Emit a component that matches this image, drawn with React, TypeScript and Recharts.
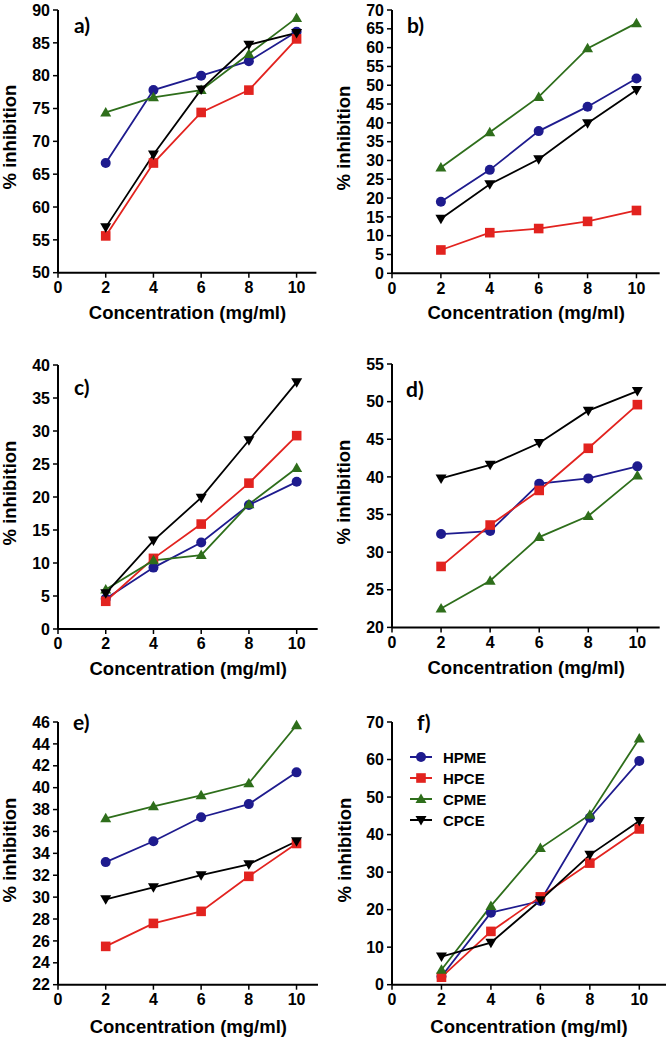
import { Legend, Line, LineChart, XAxis, YAxis } from "recharts";

const CONC = [2, 4, 6, 8, 10];
const X_TICKS = [0, 2, 4, 6, 8, 10];
const SERIES_NAMES = ["HPME", "HPCE", "CPME", "CPCE"];

// a)
const A_HPME = [66.7, 77.8, 80.0, 82.2, 86.7];
const A_HPCE = [55.6, 66.7, 74.4, 77.8, 85.6];
const A_CPME = [74.4, 76.7, 77.8, 83.3, 88.8];
const A_CPCE = [56.9, 68.0, 77.9, 84.7, 86.5];
const A_TICKS = [50, 55, 60, 65, 70, 75, 80, 85, 90];

// b)
const B_HPME = [19.0, 27.5, 37.8, 44.3, 51.8];
const B_HPCE = [6.2, 10.8, 11.9, 13.8, 16.7];
const B_CPME = [28.1, 37.5, 46.9, 59.8, 66.5];
const B_CPCE = [14.5, 23.7, 30.3, 39.9, 48.7];
const B_TICKS = [0, 5, 10, 15, 20, 25, 30, 35, 40, 45, 50, 55, 60, 65, 70];

// c)
const C_HPME = [4.6, 9.3, 13.1, 18.8, 22.3];
const C_HPCE = [4.2, 10.7, 15.9, 22.1, 29.3];
const C_CPME = [6.0, 10.4, 11.2, 18.9, 24.4];
const C_CPCE = [5.4, 13.4, 19.9, 28.6, 37.4];
const C_TICKS = [0, 5, 10, 15, 20, 25, 30, 35, 40];

// d)
const D_HPME = [32.4, 32.8, 39.1, 39.8, 41.4];
const D_HPCE = [28.1, 33.6, 38.2, 43.8, 49.6];
const D_CPME = [22.5, 26.2, 32.0, 34.8, 40.2];
const D_CPCE = [39.8, 41.6, 44.5, 48.8, 51.4];
const D_TICKS = [20, 25, 30, 35, 40, 45, 50, 55];

// e)
const E_HPME = [33.2, 35.1, 37.3, 38.5, 41.4];
const E_HPCE = [25.5, 27.6, 28.7, 31.9, 34.9];
const E_CPME = [37.2, 38.3, 39.3, 40.4, 45.7];
const E_CPCE = [29.8, 30.9, 32.0, 33.0, 35.1];
const E_TICKS = [22, 24, 26, 28, 30, 32, 34, 36, 38, 40, 42, 44, 46];

// f)
const F_HPME = [2.2, 19.2, 22.3, 44.5, 59.6];
const F_HPCE = [2.0, 14.2, 23.4, 32.4, 41.5];
const F_CPME = [4.0, 21.0, 36.4, 45.3, 65.6];
const F_CPCE = [7.5, 11.2, 22.5, 34.6, 43.6];
const F_TICKS = [0, 10, 20, 30, 40, 50, 60, 70];

const COLORS: Record<string, string> = {
  HPME: "#1e1b8e",
  HPCE: "#e2231f",
  CPME: "#2e6e1b",
  CPCE: "#000000",
};
const SHAPES: Record<string, string> = {
  HPME: "circle",
  HPCE: "square",
  CPME: "up",
  CPCE: "down",
};

const FONT = '"Liberation Sans", Arial, sans-serif';
const Y_AXIS_W = 55;
const M_TOP = 12;
const M_RIGHT = 5;
const X_AXIS_H = 30;

function rows(h: number[], p: number[], c: number[], k: number[]) {
  return CONC.map((x, i) => ({ x, HPME: h[i], HPCE: p[i], CPME: c[i], CPCE: k[i] }));
}

const PANELS = [
  { tag: "a)", data: rows(A_HPME, A_HPCE, A_CPME, A_CPCE), ticks: A_TICKS, left: 58.3, top: 10, w: 258.4, h: 262.7, xMax: 10.83, tagX: 74, tagY: 14, ylabX: 10, xlabOff: 40 },
  { tag: "b)", data: rows(B_HPME, B_HPCE, B_CPME, B_CPCE), ticks: B_TICKS, left: 392.3, top: 10, w: 267.7, h: 263.3, xMax: 10.95, tagX: 407, tagY: 14, ylabX: 344, xlabOff: 40 },
  { tag: "c)", data: rows(C_HPME, C_HPCE, C_CPME, C_CPCE), ticks: C_TICKS, left: 58.3, top: 365, w: 259.7, h: 264, xMax: 10.88, tagX: 74, tagY: 376, ylabX: 10, xlabOff: 40 },
  { tag: "d)", data: rows(D_HPME, D_HPCE, D_CPME, D_CPCE), ticks: D_TICKS, left: 392.3, top: 364.3, w: 267.7, h: 263.4, xMax: 10.91, tagX: 406, tagY: 378, ylabX: 344, xlabOff: 40 },
  { tag: "e)", data: rows(E_HPME, E_HPCE, E_CPME, E_CPCE), ticks: E_TICKS, left: 58.3, top: 722.3, w: 260, h: 262.7, xMax: 10.9, tagX: 73, tagY: 711, ylabX: 10, xlabOff: 42 },
  { tag: "f)", data: rows(F_HPME, F_HPCE, F_CPME, F_CPCE), ticks: F_TICKS, left: 392, top: 722.3, w: 274, h: 262.7, xMax: 11.08, tagX: 417, tagY: 711, ylabX: 345, xlabOff: 42, legend: true },
];

function Marker({ shape, cx, cy, color }: { shape: string; cx: number; cy: number; color: string }) {
  if (cx == null || cy == null) return null;
  if (shape === "circle") return <circle cx={cx} cy={cy} r={5} fill={color} />;
  if (shape === "square") return <rect x={cx - 4.8} y={cy - 4.8} width={9.6} height={9.6} fill={color} />;
  if (shape === "up")
    return <polygon points={`${cx},${cy - 5.5} ${cx + 5.5},${cy + 4} ${cx - 5.5},${cy + 4}`} fill={color} />;
  return <polygon points={`${cx - 5.5},${cy - 4} ${cx + 5.5},${cy - 4} ${cx},${cy + 5.5}`} fill={color} />;
}

function LegendBox() {
  return (
    <div style={{ fontFamily: FONT, fontWeight: "bold", fontSize: 15 }}>
      {SERIES_NAMES.map((n) => (
        <div key={n} style={{ display: "flex", alignItems: "center", height: 21 }}>
          <svg width={24} height={14} style={{ marginRight: 10 }}>
            <line x1={1} y1={7} x2={23} y2={7} stroke={COLORS[n]} strokeWidth={2} />
            <Marker shape={SHAPES[n]} cx={12} cy={7} color={COLORS[n]} />
          </svg>
          <span style={{ color: "#000" }}>{n}</span>
        </div>
      ))}
    </div>
  );
}

const tickStyle = { fontSize: 16, fontWeight: "bold", fill: "#000", fontFamily: FONT };

function Panel({ p }: { p: (typeof PANELS)[number] }) {
  const chartW = Y_AXIS_W + p.w + M_RIGHT;
  const chartH = M_TOP + p.h + X_AXIS_H;
  return (
    <>
      <div style={{ position: "absolute", left: p.left - Y_AXIS_W, top: p.top - M_TOP }}>
        <LineChart width={chartW} height={chartH} data={p.data} margin={{ top: M_TOP, right: M_RIGHT, bottom: 0, left: 0 }}>
          <XAxis
            type="number"
            dataKey="x"
            domain={[0, p.xMax]}
            ticks={X_TICKS}
            interval={0}
            height={X_AXIS_H}
            axisLine={{ stroke: "#000", strokeWidth: 2 }}
            tickLine={{ stroke: "#000", strokeWidth: 1.5 }}
            tickSize={5}
            tickMargin={4}
            tick={tickStyle}
          />
          <YAxis
            type="number"
            domain={[p.ticks[0], p.ticks[p.ticks.length - 1]]}
            ticks={p.ticks}
            interval={0}
            width={Y_AXIS_W}
            axisLine={{ stroke: "#000", strokeWidth: 2 }}
            tickLine={{ stroke: "#000", strokeWidth: 1.5 }}
            tickSize={5}
            tickMargin={3}
            tick={tickStyle}
          />
          {SERIES_NAMES.map((n) => (
            <Line
              key={n}
              type="linear"
              dataKey={n}
              name={n}
              stroke={COLORS[n]}
              strokeWidth={1.8}
              isAnimationActive={false}
              activeDot={false}
              dot={(d: any) => (
                <Marker key={`${n}-${d.index}`} shape={SHAPES[n]} cx={d.cx} cy={d.cy} color={COLORS[n]} />
              )}
            />
          ))}
          {p.legend ? (
            <Legend
              layout="vertical"
              align="center"
              verticalAlign="middle"
              content={() => <LegendBox />}
              wrapperStyle={{ position: "absolute", left: 410 - (p.left - Y_AXIS_W) - 1, top: 747 - (p.top - M_TOP), width: 110 }}
            />
          ) : null}
        </LineChart>
      </div>
      <div
        style={{
          position: "absolute",
          left: p.tagX,
          top: p.tagY,
          fontFamily: "Lato, 'Open Sans', sans-serif",
          fontWeight: "bold",
          fontSize: 21,
          lineHeight: 1,
        }}
      >
        {p.tag}
      </div>
      <div
        style={{
          position: "absolute",
          left: p.left + p.w / 2,
          top: p.top + p.h + p.xlabOff,
          transform: "translate(-50%, -50%)",
          whiteSpace: "nowrap",
          fontFamily: FONT,
          fontWeight: "bold",
          fontSize: 18.5,
        }}
      >
        Concentration (mg/ml)
      </div>
      <div
        style={{
          position: "absolute",
          left: p.ylabX,
          top: p.top + p.h / 2 - 4,
          transform: "translate(-50%, -50%) rotate(-90deg)",
          whiteSpace: "nowrap",
          fontFamily: FONT,
          fontWeight: "bold",
          fontSize: 18.5,
        }}
      >
        % inhibition
      </div>
    </>
  );
}

export default function App() {
  return (
    <div style={{ position: "absolute", left: 0, top: 0, width: 669, height: 1039, background: "#fff", overflow: "hidden" }}>
      {PANELS.map((p) => (
        <Panel key={p.tag} p={p} />
      ))}
    </div>
  );
}
